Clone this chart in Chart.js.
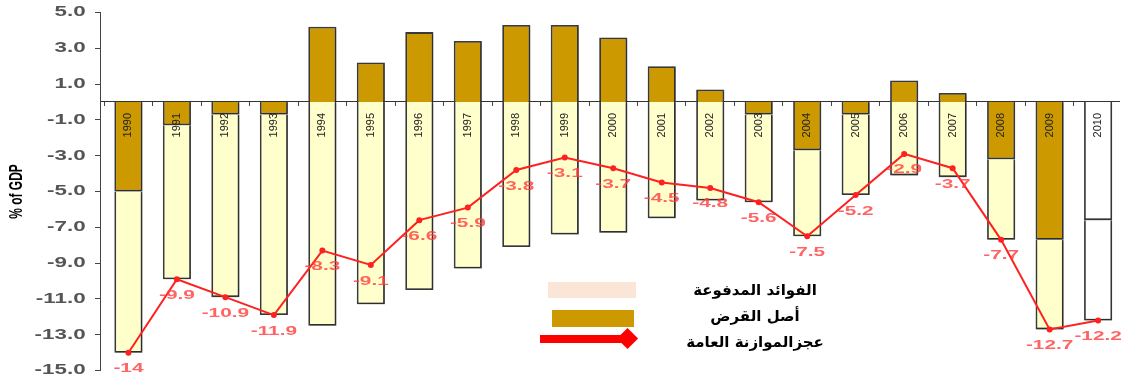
<!DOCTYPE html>
<html>
<head>
<meta charset="utf-8">
<title>Budget balance</title>
<script src="https://cdn.jsdelivr.net/npm/chart.js@4.4.0/dist/chart.umd.min.js"></script>
<style>
  html, body { margin: 0; padding: 0; background: #fff; overflow: hidden; }
  #wrap { position: relative; width: 1123px; height: 383px; }
  #chart { position: absolute; left: 0; top: 0; }
  .key { position: absolute; }
  #legendText {
    position: absolute; left: 660px; top: 277px; width: 190px;
    text-align: center; direction: rtl; color: #000;
    font: bold 15px 'DejaVu Sans', sans-serif; line-height: 26px;
  }
</style>
</head>
<body>
<div id="wrap">
  <canvas id="chart" width="1123" height="383"></canvas>
  <div class="key" style="left:548px;top:282px;width:88px;height:16px;background:#fbe5d6"></div>
  <div class="key" style="left:552px;top:310px;width:82px;height:17px;background:#cc9900"></div>
  <div class="key" style="left:540px;top:335px;width:88px;height:8px;background:#ff0000"></div>
  <div class="key" style="left:620px;top:331px;width:15px;height:15px;background:#ff0000;transform:rotate(45deg)"></div>
  <div id="legendText">
    <div>الفوائد المدفوعة</div>
    <div>أصل القرض</div>
    <div>عجزالموازنة العامة</div>
  </div>
</div>
<script>
// % of GDP, 1990-2010 (2010 = projection)
var years = [1990, 1991, 1992, 1993, 1994, 1995, 1996, 1997, 1998, 1999, 2000,
             2001, 2002, 2003, 2004, 2005, 2006, 2007, 2008, 2009, 2010];
var principal = [-5.0, -1.3, -0.7, -0.7, 4.2, 2.2, 3.9, 3.4, 4.3, 4.3, 3.6,
                 2.0, 0.7, -0.7, -2.7, -0.7, 1.2, 0.5, -3.2, -7.7, -6.6];
var interest = [-9.0, -8.6, -10.2, -11.2, -12.5, -11.3, -10.5, -9.3, -8.1, -7.4, -7.3,
                -6.5, -5.5, -4.9, -4.8, -4.5, -4.1, -4.2, -4.5, -5.0, -5.6];
var balance = [-14, -9.9, -10.9, -11.9, -8.3, -9.1, -6.6, -5.9, -3.8, -3.1, -3.7,
               -4.5, -4.8, -5.6, -7.5, -5.2, -2.9, -3.7, -7.7, -12.7, -12.2];
var projected = [2010];
var yTicks = [-15, -13, -11, -9, -7, -5, -3, -1, 1, 3, 5];

var BROWN = '#cc9900', CREAM = '#ffffcc', RED = '#ff2020';

function points(values) {
    return values.map(function (v, i) { return { x: years[i], y: v }; });
}
function barColors(color) {
    return years.map(function (y) { return projected.indexOf(y) >= 0 ? '#ffffff' : color; });
}

// the original picture is squeezed sideways, so text is widened on x
function stretchX(fn, cx, k) {
    return function () {
        var ctx = this.ctx;
        ctx.save();
        ctx.translate(cx, 0);
        ctx.scale(k, 1);
        ctx.translate(-cx, 0);
        fn.apply(this, arguments);
        ctx.restore();
    };
}

var widenAxis = {
    id: 'widenAxis',
    afterLayout: function (chart) {
        var s = chart.scales.y;
        if (s._widened) return;
        s.drawLabels = stretchX(s.drawLabels, s.right, 1.6);
        s.drawTitle = stretchX(s.drawTitle, 16, 1.6);
        s._widened = true;
    }
};

// soft grey shadow under the bars, like the original
var barShadow = {
    id: 'barShadow',
    beforeDatasetDraw: function (chart, args) {
        if (args.meta.type !== 'bar') return;
        var ctx = chart.ctx;
        ctx.save();
        ctx.shadowColor = 'rgba(0, 0, 0, 0.3)';
        ctx.shadowBlur = 2;
        ctx.shadowOffsetX = 1;
        ctx.shadowOffsetY = 1;
    },
    afterDatasetDraw: function (chart, args) {
        if (args.meta.type !== 'bar') return;
        chart.ctx.restore();
    }
};

var balanceLabels = {
    id: 'balanceLabels',
    afterDatasetsDraw: function (chart) {
        var meta = chart.getDatasetMeta(2);
        var ctx = chart.ctx;
        ctx.save();
        ctx.font = 'bold 13px "Liberation Sans", Arial, sans-serif';
        ctx.fillStyle = 'rgba(255, 60, 60, 0.8)';
        ctx.textAlign = 'center';
        ctx.textBaseline = 'middle';
        meta.data.forEach(function (pt, i) {
            ctx.save();
            ctx.translate(pt.x, pt.y + 16);
            ctx.scale(1.6, 1);
            ctx.fillText(String(balance[i]), 0, 0);
            ctx.restore();
        });
        ctx.restore();
    }
};

var barStyle = {
    borderColor: '#3a3a3a',
    borderWidth: 1.8,
    barPercentage: 0.58,
    categoryPercentage: 1,
    order: 1
};

var chart = new Chart(document.getElementById('chart'), {
    type: 'bar',
    data: {
        datasets: [Object.assign({
            label: 'أصل القرض',
            data: points(principal),
            backgroundColor: barColors(BROWN)
        }, barStyle), Object.assign({
            label: 'الفوائد المدفوعة',
            data: points(interest),
            backgroundColor: barColors(CREAM)
        }, barStyle), {
            type: 'line',
            label: 'عجزالموازنة العامة',
            data: points(balance),
            stack: 'balance',
            borderColor: RED,
            borderWidth: 2,
            backgroundColor: RED,
            pointRadius: 3,
            pointBorderWidth: 0,
            tension: 0,
            order: 0
        }]
    },
    options: {
        responsive: false,
        animation: false,
        devicePixelRatio: 1,
        layout: { padding: { top: 12, bottom: 11, left: 0, right: 0 } },
        plugins: {
            legend: { display: false },
            tooltip: { enabled: false }
        },
        scales: {
            x: {
                type: 'linear',
                position: { y: 0 },
                offset: false,
                stacked: true,
                min: 1989.414,
                max: 2010.431,
                afterBuildTicks: function (s) {
                    s.ticks = years.map(function (v) { return { value: v }; });
                },
                afterFit: function (s) {
                    s.paddingLeft = 0;
                    s.paddingRight = 0;
                },
                grid: { offset: true, drawOnChartArea: false, tickLength: 4, color: '#444' },
                border: { color: '#333', width: 1 },
                ticks: {
                    z: 1,
                    autoSkip: false,
                    minRotation: 90,
                    maxRotation: 90,
                    padding: 7,
                    color: '#222',
                    font: { size: 11, family: '"Liberation Sans", Arial, sans-serif' },
                    callback: function (v) { return String(v); }
                }
            },
            y: {
                stacked: true,
                min: -15,
                max: 5,
                afterBuildTicks: function (s) {
                    s.ticks = yTicks.map(function (v) { return { value: v }; });
                },
                afterFit: function (s) { s.width = 100; },
                grid: { drawOnChartArea: false, tickLength: 5, color: '#444' },
                border: { color: '#444', width: 1 },
                ticks: {
                    padding: 4,
                    color: '#555',
                    font: { size: 14, weight: 'bold', family: '"Liberation Sans", Arial, sans-serif' },
                    callback: function (v) { return v.toFixed(1); }
                },
                title: {
                    display: true,
                    text: '% of GDP',
                    color: '#000',
                    padding: { top: 9, bottom: 0 },
                    font: { size: 12, weight: 'bold', family: '"Liberation Sans", Arial, sans-serif' }
                }
            }
        }
    },
    plugins: [widenAxis, barShadow, balanceLabels]
});
</script>
</body>
</html>
